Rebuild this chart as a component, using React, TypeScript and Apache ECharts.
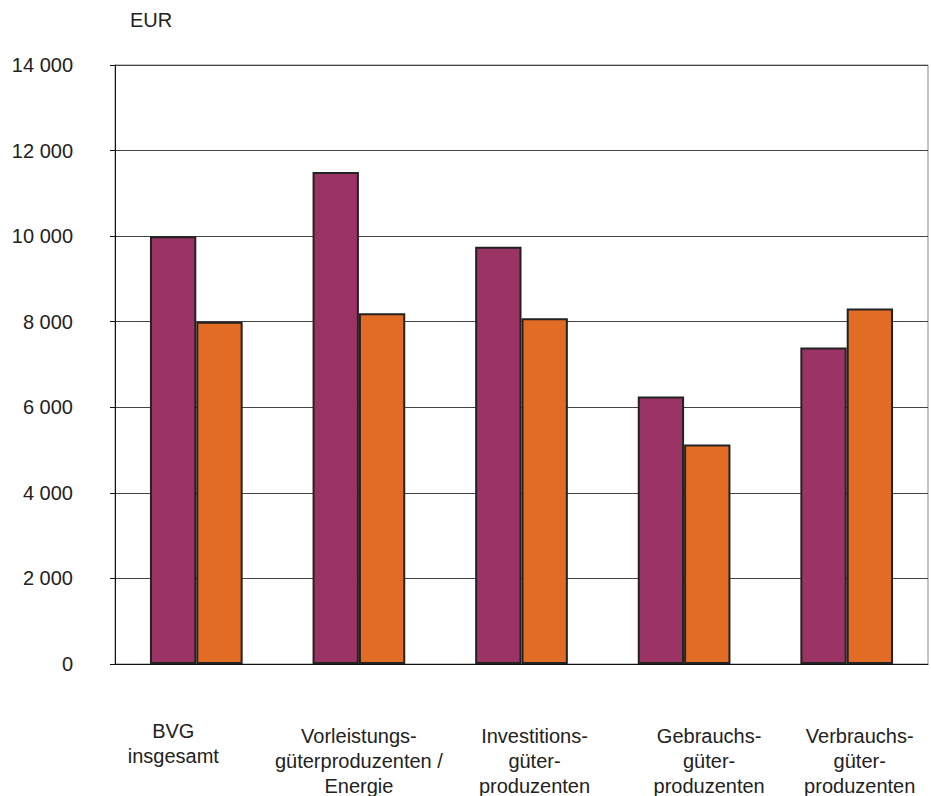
import React, { useEffect, useRef } from "react";
import * as echarts from "echarts";

const categories = [
  "BVG\ninsgesamt",
  "Vorleistungs-\ngüterproduzenten /\nEnergie",
  "Investitions-\ngüter-\nproduzenten",
  "Gebrauchs-\ngüter-\nproduzenten",
  "Verbrauchs-\ngüter-\nproduzenten",
];
const seriesA = [10000, 11500, 9750, 6250, 7400];
const seriesB = [8000, 8200, 8080, 5130, 8310];
const unitLabel = "EUR";

// per-label padding to mimic original label placement
const labelPadding = [
  [0, 46, 0, 0],
  [5, 0, 0, 0],
  [5, 0, 0, 26],
  [5, 0, 0, 50],
  [5, 0, 0, 26],
];

export default function App() {
  const ref = useRef<HTMLDivElement>(null);
  useEffect(() => {
    if (!ref.current) return;
    const chart = echarts.init(ref.current, undefined, { renderer: "svg" });
    const font = "'Liberation Sans', Arial, sans-serif";
    chart.setOption({
      animation: false,
      textStyle: { fontFamily: font },
      graphic: [
        {
          type: "text",
          left: 130,
          top: 10,
          style: { text: unitLabel, font: `20px ${font}`, fill: "#222" },
        },
      ],
      grid: {
        left: 115,
        right: 3,
        top: 65,
        bottom: 132,
        show: true,
        borderColor: "#888",
        borderWidth: 1,
        containLabel: false,
        outerBoundsMode: "none",
      },
      xAxis: {
        type: "category",
        data: categories.map((c, i) => ({
          value: c,
          textStyle: { padding: labelPadding[i] },
        })),
        axisLine: { show: true, lineStyle: { color: "#111", width: 1 } },
        axisTick: { show: false },
        axisLabel: {
          interval: 0,
          margin: 54,
          fontSize: 20,
          lineHeight: 25,
          color: "#222",
          fontFamily: font,
        },
      },
      yAxis: {
        type: "value",
        min: 0,
        max: 14000,
        interval: 2000,
        axisLine: { show: true, lineStyle: { color: "#111", width: 1 } },
        axisTick: { show: true, length: 5, lineStyle: { color: "#111" } },
        splitLine: { show: true, lineStyle: { color: "#444", width: 1 } },
        axisLabel: {
          margin: 42,
          fontSize: 20,
          color: "#222",
          fontFamily: font,
          formatter: (v: number) =>
            String(v).replace(/\B(?=(\d{3})+(?!\d))/g, " "),
        },
      },
      series: [
        {
          type: "bar",
          data: seriesA,
          barGap: "0%",
          barCategoryGap: "43%",
          itemStyle: { color: "#9B3365", borderColor: "#222", borderWidth: 2 },
        },
        {
          type: "bar",
          data: seriesB,
          itemStyle: { color: "#E36C25", borderColor: "#222", borderWidth: 2 },
        },
      ],
    });
    return () => chart.dispose();
  }, []);
  return (
    <div
      ref={ref}
      style={{ position: "absolute", left: 0, top: 0, width: 931, height: 796 }}
    />
  );
}
